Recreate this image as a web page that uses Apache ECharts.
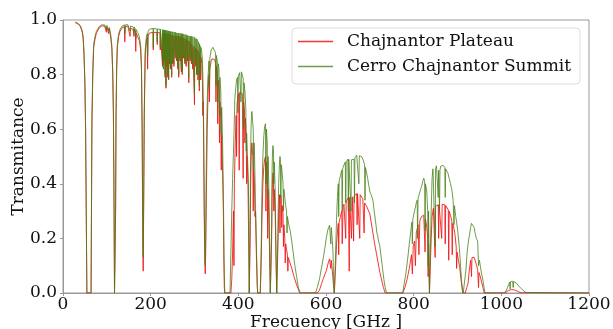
<!DOCTYPE html>
<html><head><meta charset="utf-8">
<script src="https://cdn.jsdelivr.net/npm/echarts@6/dist/echarts.min.js"></script>
<style>html,body{margin:0;padding:0;background:#fff}#c{width:613px;height:329px}</style>
</head><body><div id="c"></div>
<script>
const seriesNames = ['Chajnantor Plateau', 'Cerro Chajnantor Summit'];
const xTicks = [0, 200, 400, 600, 800, 1000, 1200];
const yTicks = [0.0, 0.2, 0.4, 0.6, 0.8, 1.0];
const xTitle = 'Frecuency [GHz ]';
const yTitle = 'Transmitance';

// Chajnantor Plateau: [frequency GHz, transmittance]
const plateau = [
[28,0.99],[35,0.985],[40,0.975],[44,0.955],[46,0.93],[48,0.87],[50,0.76],[51.5,0.6],[53,0.3],[54.5,0],[64,0],[65,0.3],[66,0.62],[68,0.8],[70,0.9],[73,0.93],[76,0.95],[82,0.97],[88,0.978],[95,0.978],[98,0.975],[99,0.955],[100,0.975],[103,0.972],[104,0.95],[105,0.97],[106,0.962],[109,0.935],[111.5,0.895],[113.5,0.8],[115,0.65],[116.5,0.3],[117.5,0],[119,0],[120,0.3],[121,0.65],[122.5,0.82],[124,0.9],[127,0.94],[130,0.958],[135,0.972],[140,0.975],[141,0.92],[142,0.975],[148,0.978],[152,0.972],[153,0.94],[154,0.97],[160,0.965],[162,0.94],[163,0.965],[165,0.955],[166,0.885],[167,0.952],[170,0.945],[174,0.925],[177,0.895],[179,0.82],[180.5,0.6],[182,0.2],[183,0.08],[184,0.3],[185.5,0.65],[187.5,0.87],[190,0.92],[192,0.935],[193,0.82],[194,0.94],[197,0.952],
[199,0.957],[205.6,0.955],[206,0.89],[206.4,0.955],[214.6,0.954],[215,0.91],[215.4,0.954],[221.6,0.953],[222,0.89],[222.4,0.953],[226.6,0.952],[227,0.83],[227.4,0.952],[228.6,0.951],[229,0.84],[229.4,0.951],[230.6,0.95],[231,0.85],[231.4,0.95],[232.6,0.95],[233,0.79],[233.4,0.95],[234.6,0.949],[235,0.75],[235.4,0.949],[236.6,0.948],[237,0.83],[237.4,0.948],[238.6,0.947],[239,0.79],[239.4,0.947],[240.6,0.947],[241,0.785],[241.4,0.947],[242.6,0.946],[243,0.84],[243.4,0.946],[244.6,0.945],[245,0.82],[245.4,0.945],[247.6,0.944],[248,0.79],[248.4,0.944],[249.6,0.943],[250,0.84],[250.4,0.943],[252.6,0.942],[253,0.83],[253.4,0.942],[255.6,0.941],[256,0.86],[256.4,0.941],[258.6,0.941],[259,0.85],[259.4,0.941],[261.6,0.94],[262,0.82],[262.4,0.94],[263.6,0.94],[264,0.79],[264.4,0.94],[266.6,0.939],[267,0.85],[267.4,0.939],[269.6,0.937],[270,0.81],[270.4,0.937],[271.6,0.936],[272,0.8],[272.4,0.936],[274.6,0.933],[275,0.86],[275.4,0.933],[277.6,0.931],[278,0.84],[278.4,0.931],[280.6,0.929],[281,0.83],[281.4,0.929],[283.6,0.925],[284,0.85],[284.4,0.925],[286.6,0.923],[287,0.77],[287.4,0.923],[289.6,0.918],[290,0.85],[290.4,0.918],[292.6,0.912],[293,0.84],[293.4,0.912],[295.6,0.905],[296,0.82],[296.4,0.905],[299.6,0.9],[300,0.69],[300.4,0.9],[302.6,0.895],[303,0.83],[303.4,0.895],[304.6,0.893],[305,0.8],[305.4,0.893],[307.6,0.885],[308,0.78],[308.4,0.885],[310.6,0.875],[311,0.74],[311.4,0.875],[313.6,0.865],[314,0.78],[314.4,0.865],[316,0.85],
[317,0.84],[318,0.78],[319,0.65],[320,0.7],[321,0.5],[322,0.3],[323.5,0.12],[324.5,0.07],[325.5,0.15],[327,0.35],[329,0.6],[331,0.74],[333,0.8],[334,0.7],[335,0.82],[338,0.85],[340,0.858],[343,0.86],[346,0.855],[348,0.84],[349,0.7],[350,0.83],[352,0.8],[353,0.62],[354,0.78],[356,0.74],[357,0.55],[358,0.7],[360,0.64],[361,0.45],[362,0.58],[364,0.45],[366,0.28],[367,0.12],[368,0.02],[369,0],
[383,0],[385,0.05],[387,0.15],[389,0.3],[390,0.1],[391,0.4],[393,0.55],[395,0.65],[396,0.5],[397,0.69],[399,0.72],[401,0.73],[402,0.45],[403,0.735],[405,0.74],[407,0.738],[409,0.73],[410,0.6],[411,0.42],[412,0.7],[414,0.67],[415,0.55],[416,0.64],[418,0.57],[419,0.4],[420,0.5],[422,0.4],[423.5,0.2],[425,0],
[426,0],[427,0.2],[428,0.38],[429,0.48],[430,0.53],[431,0.55],[432,0.55],[433,0.5],[434,0.3],[435,0.45],[437,0.4],[438,0.28],[439,0.3],[441,0.15],[443,0.03],[444,0],
[450,0],[452,0.1],[454,0.28],[456,0.4],[458,0.46],[460,0.49],[462,0.5],[463,0.3],[464,0.48],[466,0.42],[467,0.2],[468,0.38],[470,0.25],[472,0.08],[473,0],
[475,0],[476,0.2],[477,0.35],[478,0.42],[479,0.44],[480,0.43],[481,0.3],[482,0.38],[484,0.3],[486,0.12],[487.5,0],
[489,0],[490,0.15],[492,0.3],[494,0.36],[495,0.22],[496,0.36],[498,0.35],[499,0.24],[500,0.32],[502,0.29],[503,0.17],[504,0.25],[506,0.2],[507,0.11],[508,0.18],[510,0.16],[512,0.14],[513,0.08],[514,0.13],[518,0.11],[522,0.09],[527,0.06],[533,0.03],[540,0],
[580,0],[585,0.01],[590,0.035],[594,0.053],[598,0.07],[601,0.083],[605,0.11],[608,0.125],[610,0.126],[611,0.09],[612,0.12],[615,0.07],[617,0.03],[619,0],
[620,0],[622,0.1],[624,0.18],[626,0.22],[628,0.255],[629,0.14],[630,0.26],[633,0.28],[636,0.3],[637,0.18],[639,0.315],[641,0.325],[643,0.33],[645,0.2],[646,0.335],[648,0.34],[651,0.35],[653,0.08],[654,0.35],[657,0.35],[658,0.2],[660,0.352],[662,0.355],[663,0.19],[664,0.355],[667,0.36],[670,0.364],[671,0.25],[672,0.364],[675,0.362],[677,0.2],[678,0.36],[681,0.355],[684,0.345],[686,0.34],[687,0.22],[688,0.33],[692,0.32],[696,0.305],[700,0.29],[703,0.26],[707,0.22],[711,0.18],[715,0.145],[719,0.11],[723,0.075],[727,0.047],[731,0.02],[735,0],
[775,0],[780,0.02],[785,0.05],[790,0.09],[795,0.14],[797,0.07],[799,0.17],[802,0.19],[804,0.1],[806,0.22],[810,0.25],[812,0.14],[814,0.265],[818,0.28],[821,0.285],[823,0.285],[825,0.28],[826,0.15],[827,0.27],[830,0.24],[832,0.2],[833,0.06],[834,0.18],[835,0.08],[836,0],[838,0],[840,0.2],[842,0.28],[845,0.31],[848,0.315],[849,0.13],[850,0.318],[853,0.322],[856,0.323],[857,0.2],[858,0.323],[862,0.325],[864,0.2],[865,0.325],[868,0.325],[871,0.323],[872,0.18],[873,0.32],[876,0.315],[879,0.305],[880,0.12],[881,0.3],[884,0.285],[887,0.265],[888,0.14],[889,0.255],[892,0.235],[894,0.218],[897,0.17],[898,0.09],[899,0.15],[902,0.12],[905,0.095],[908,0.05],[911,0.01],[912,0],
[918,0],[921,0.02],[924,0.035],[927,0.085],[930,0.12],[932,0.06],[933,0.13],[934,0.136],[936,0.135],[938,0.13],[940,0.12],[943,0.105],[946,0.085],[948,0.02],[949,0.075],[952,0.06],[955,0.04],[958,0.02],[961,0],
[1008,0],[1012,0.004],[1016,0.009],[1020,0.012],[1024,0.013],[1028,0.012],[1032,0.01],[1036,0.007],[1040,0.004],[1045,0.001],[1048,0],[1200,0]
];

// Cerro Chajnantor Summit: [frequency GHz, transmittance]
const summit = [
[28,0.992],[35,0.987],[40,0.978],[44,0.96],[46,0.94],[48,0.88],[50,0.77],[51.5,0.62],[53,0.32],[54.5,0],[64,0],[65,0.32],[66,0.64],[68,0.82],[70,0.91],[73,0.94],[76,0.958],[82,0.975],[88,0.982],[95,0.982],[98,0.98],[99,0.965],[100,0.98],[104,0.976],[105,0.96],[106,0.972],[109,0.945],[111.5,0.905],[113.5,0.81],[115,0.66],[116.5,0.31],[117.5,0],[119,0],[120,0.31],[121,0.66],[122.5,0.83],[124,0.91],[127,0.95],[130,0.965],[135,0.978],[140,0.982],[141,0.95],[142,0.982],[148,0.983],[152,0.98],[153,0.96],[154,0.978],[160,0.975],[162,0.955],[163,0.974],[165,0.965],[166,0.93],[167,0.965],[170,0.955],[174,0.94],[177,0.91],[179,0.84],[180.5,0.63],[182,0.25],[183,0.13],[184,0.34],[185.5,0.68],[187.5,0.89],[190,0.935],[192,0.95],[193,0.87],[194,0.958],[197,0.966],
[199,0.97],[205.6,0.969],[206,0.9],[206.4,0.969],[214.6,0.967],[215,0.92],[215.4,0.967],[221.6,0.966],[222,0.9],[222.4,0.966],[226.6,0.965],[227,0.85],[227.4,0.965],[228.6,0.964],[229,0.82],[229.4,0.964],[230.6,0.963],[231,0.86],[231.4,0.963],[232.6,0.963],[233,0.8],[233.4,0.963],[234.6,0.962],[235,0.76],[235.4,0.962],[236.6,0.961],[237,0.84],[237.4,0.961],[238.6,0.96],[239,0.8],[239.4,0.96],[240.6,0.96],[241,0.78],[241.4,0.96],[242.6,0.959],[243,0.85],[243.4,0.959],[244.6,0.958],[245,0.83],[245.4,0.958],[247.6,0.957],[248,0.8],[248.4,0.957],[249.6,0.957],[250,0.85],[250.4,0.957],[252.6,0.956],[253,0.84],[253.4,0.956],[255.6,0.955],[256,0.87],[256.4,0.955],[258.6,0.953],[259,0.86],[259.4,0.953],[261.6,0.952],[262,0.83],[262.4,0.952],[263.6,0.952],[264,0.8],[264.4,0.952],[266.6,0.951],[267,0.86],[267.4,0.951],[269.6,0.95],[270,0.82],[270.4,0.95],[271.6,0.95],[272,0.81],[272.4,0.95],[274.6,0.948],[275,0.87],[275.4,0.948],[277.6,0.947],[278,0.85],[278.4,0.947],[280.6,0.946],[281,0.84],[281.4,0.946],[283.6,0.943],[284,0.86],[284.4,0.943],[286.6,0.942],[287,0.79],[287.4,0.942],[289.6,0.941],[290,0.86],[290.4,0.941],[292.6,0.94],[293,0.85],[293.4,0.94],[295.6,0.939],[296,0.84],[296.4,0.939],[299.6,0.936],[300,0.73],[300.4,0.936],[302.6,0.932],[303,0.85],[303.4,0.932],[304.6,0.93],[305,0.8],[305.4,0.93],[307.6,0.92],[308,0.8],[308.4,0.92],[310.6,0.912],[311,0.76],[311.4,0.912],[313.6,0.9],[314,0.8],[314.4,0.9],[316,0.89],
[317,0.884],[318,0.86],[319,0.8],[320.5,0.68],[321.5,0.5],[322.5,0.3],[323.5,0.16],[324.5,0.1],[325.5,0.2],[326.5,0.4],[328,0.62],[330,0.77],[333,0.85],[334,0.75],[335,0.86],[338,0.89],[342,0.9],[345,0.895],[348,0.88],[349,0.76],[350,0.87],[352,0.85],[353,0.7],[354,0.84],[356,0.82],[357,0.65],[358,0.79],[360,0.74],[361,0.58],[362,0.68],[364,0.56],[366,0.35],[367.5,0.12],[369,0],
[381,0],[383,0.15],[385,0.3],[387,0.42],[389,0.52],[390,0.58],[392,0.71],[394,0.75],[396,0.78],[398,0.79],[399,0.66],[400,0.795],[403,0.807],[405,0.81],[406,0.7],[407,0.81],[409,0.8],[411,0.785],[412,0.6],[413,0.77],[415,0.74],[417,0.68],[418,0.52],[419,0.585],[421,0.5],[423,0.4],[424,0.2],[425,0],
[426,0],[427,0.3],[428,0.5],[429,0.6],[430,0.65],[431,0.665],[432,0.67],[433,0.66],[434,0.6],[435,0.45],[436,0.55],[437,0.5],[438,0.42],[439,0.32],[440,0.28],[441,0.2],[443,0.05],[444,0],
[450,0],[452,0.15],[454,0.38],[456,0.5],[458,0.57],[460,0.61],[462,0.62],[463,0.4],[464,0.6],[466,0.55],[467,0.35],[468,0.5],[470,0.36],[472,0.12],[473,0],
[475,0],[476,0.25],[477,0.45],[478,0.52],[479,0.54],[480,0.53],[481,0.4],[482,0.48],[484,0.38],[486,0.15],[487.5,0],
[489,0],[490,0.2],[492,0.4],[494,0.48],[495,0.5],[496,0.49],[497,0.35],[498,0.47],[500,0.44],[502,0.4],[503,0.3],[504,0.38],[506,0.35],[508,0.32],[510,0.3],[511,0.22],[512,0.28],[515,0.25],[518,0.23],[521,0.2],[525,0.15],[529,0.1],[533,0.06],[537,0.02],[541,0],
[576,0],[580,0.02],[585,0.05],[590,0.095],[594,0.13],[597,0.16],[601,0.205],[604,0.23],[606,0.24],[608,0.248],[610,0.245],[611,0.18],[612,0.24],[614,0.2],[616,0.15],[617,0.08],[618,0.03],[619,0],
[620,0],[622,0.15],[624,0.27],[626,0.35],[628,0.4],[629,0.28],[630,0.41],[633,0.43],[636,0.45],[637,0.3],[638,0.455],[640,0.465],[642,0.47],[644,0.48],[645,0.33],[646,0.48],[648,0.487],[650,0.49],[651,0.3],[652,0.49],[654,0.49],[656,0.488],[657,0.3],[658,0.488],[660,0.487],[662,0.487],[664,0.49],[665,0.33],[666,0.495],[668,0.5],[670,0.505],[672,0.505],[674,0.504],[675,0.4],[676,0.503],[678,0.502],[681,0.5],[684,0.49],[686,0.48],[688,0.47],[689,0.34],[690,0.46],[692,0.445],[695,0.42],[698,0.39],[700,0.37],[703,0.36],[707,0.34],[710,0.3],[714,0.25],[716,0.22],[718,0.21],[720,0.19],[723,0.17],[726,0.13],[729,0.09],[732,0.05],[735,0.02],[738,0],
[775,0],[778,0.03],[782,0.07],[786,0.12],[790,0.18],[793,0.22],[796,0.26],[797,0.18],[798,0.27],[802,0.3],[806,0.33],[808,0.34],[809,0.2],[810,0.345],[814,0.37],[818,0.39],[821,0.41],[823,0.42],[825,0.41],[826,0.23],[827,0.4],[830,0.37],[832,0.3],[833,0.1],[834,0.3],[835,0.15],[836,0],[838,0],[840,0.3],[842,0.42],[844,0.455],[846,0.46],[848,0.45],[849,0.17],[850,0.455],[852,0.466],[855,0.46],[856,0.35],[857,0.45],[859,0.3],[860,0.45],[862,0.465],[865,0.468],[867,0.468],[869,0.465],[871,0.46],[872,0.35],[873,0.455],[876,0.448],[878,0.44],[881,0.42],[884,0.4],[887,0.38],[890,0.34],[892,0.25],[893,0.32],[896,0.28],[898,0.26],[901,0.22],[904,0.17],[907,0.1],[909,0.047],[911,0.02],[913,0],
[916,0],[919,0.08],[922,0.15],[925,0.19],[928,0.22],[930,0.24],[932,0.255],[934,0.26],[936,0.255],[938,0.24],[940,0.22],[943,0.2],[946,0.19],[948,0.1],[950,0.12],[952,0.1],[955,0.07],[958,0.047],[961,0.015],[963,0],
[1005,0],[1010,0.005],[1014,0.02],[1017,0.032],[1019,0.04],[1020,0.015],[1021,0.042],[1024,0.044],[1026,0.043],[1027,0.02],[1028,0.042],[1031,0.04],[1034,0.037],[1037,0.03],[1040,0.025],[1044,0.018],[1048,0.012],[1052,0.006],[1056,0.002],[1060,0],[1200,0]
];

const FONT = 'DejaVu Serif';
const FS = 17;
const chart = echarts.init(document.getElementById('c'), null, {renderer: 'canvas'});
chart.setOption({
  animation: false,
  backgroundColor: '#fff',
  grid: {left: 63, right: 24, top: 20, bottom: 36, containLabel: false, outerBoundsMode: 'none',
         show: true, borderColor: '#999', borderWidth: 1, backgroundColor: 'transparent'},
  legend: {
    data: seriesNames.map(n => ({name: n, icon: 'rect'})), orient: 'vertical', left: 292, top: 28,
    itemWidth: 35, itemHeight: 1.5, itemGap: 8,
    padding: [5, 9, 9, 6],
    backgroundColor: 'rgba(255,255,255,0.85)', borderColor: '#ddd', borderWidth: 1, borderRadius: 4,
    textStyle: {fontFamily: FONT, fontSize: FS, color: '#111', lineHeight: 17, padding: [0, 0, 0, 9]}
  },
  xAxis: {
    type: 'value', min: xTicks[0], max: xTicks[xTicks.length - 1], interval: 200,
    name: xTitle, nameLocation: 'middle', nameGap: 21, nameMoveOverlap: false,
    nameTextStyle: {fontFamily: FONT, fontSize: FS, color: '#111', verticalAlign: 'top'},
    axisLine: {show: true, onZero: false, lineStyle: {color: '#999'}},
    axisTick: {show: true, length: 3, lineStyle: {color: '#999'}},
    axisLabel: {fontFamily: FONT, fontSize: FS, color: '#111', margin: 3, formatter: v => String(v)},
    splitLine: {show: false}
  },
  yAxis: {
    type: 'value', min: yTicks[0], max: yTicks[yTicks.length - 1], interval: 0.2,
    name: yTitle, nameLocation: 'middle', nameGap: 36, nameRotate: 90, nameMoveOverlap: false,
    nameTextStyle: {fontFamily: FONT, fontSize: FS, color: '#111'},
    axisLine: {show: true, lineStyle: {color: '#999'}},
    axisTick: {show: true, length: 3, lineStyle: {color: '#999'}},
    axisLabel: {fontFamily: FONT, fontSize: FS, color: '#111', margin: 6, formatter: v => v.toFixed(1)},
    splitLine: {show: false}
  },
  series: [
    {name: seriesNames[0], type: 'line', data: plateau, symbol: 'none', sampling: null,
     lineStyle: {width: 1, color: 'rgba(240,20,20,0.85)'}, itemStyle: {color: 'rgba(240,20,20,0.85)'}},
    {name: seriesNames[1], type: 'line', data: summit, symbol: 'none', sampling: null,
     lineStyle: {width: 1, color: 'rgba(70,128,20,0.78)'}, itemStyle: {color: 'rgba(70,128,20,0.78)'}}
  ]
});
</script></body></html>
